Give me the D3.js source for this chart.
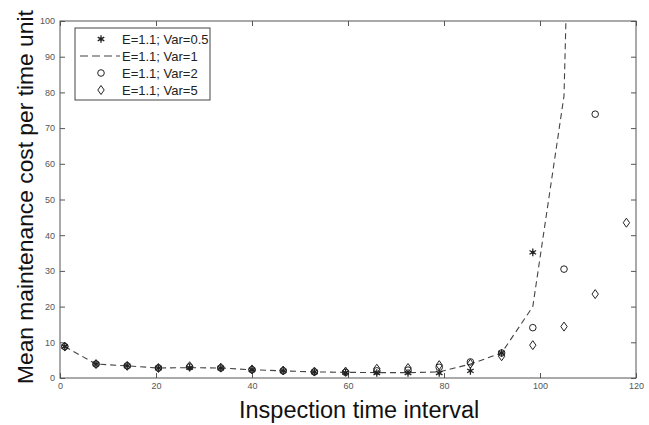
<!DOCTYPE html>
<html><head><meta charset="utf-8">
<script src="https://cdn.jsdelivr.net/npm/d3@7"></script>
<style>body{margin:0;background:#fff}</style>
</head><body>
<svg id="c" width="649" height="425"></svg>
<script>
const xValues = [1,7.5,14,20.5,27,33.5,40,46.5,53,59.5,66,72.5,79,85.5,92,98.5,105,111.5,118];
const var05 = [8.8,3.9,3.4,2.8,2.9,2.8,2.3,2.0,1.7,1.5,1.4,1.4,1.4,2.0,7.0,35.2];
const var1  = [8.8,3.9,3.4,2.8,2.9,2.8,2.3,2.0,1.7,1.6,1.5,1.5,1.7,3.9,7.0,20.0,79.0,420];
const var2  = [8.8,3.9,3.4,2.8,3.1,2.8,2.3,2.0,1.7,1.6,2.0,2.2,3.0,4.5,7.0,14.1,30.5,73.9];
const var5  = [8.8,3.9,3.4,2.8,3.3,2.9,2.4,2.1,1.8,1.8,2.6,2.8,3.6,4.0,6.1,9.2,14.4,23.5,43.5];
const xTicks = [0,20,40,60,80,100,120];
const yTicks = [0,10,20,30,40,50,60,70,80,90,100];
const legendLabels = ["E=1.1; Var=0.5","E=1.1; Var=1","E=1.1; Var=2","E=1.1; Var=5"];

const svg = d3.select("#c");
const L=60,R=636,T=21,B=378;
const x = d3.scaleLinear().domain([0,120]).range([L,R]);
const y = d3.scaleLinear().domain([0,100]).range([B,T]);
const ink = "#222";

svg.append("defs").append("clipPath").attr("id","clip")
  .append("rect").attr("x",L).attr("y",T).attr("width",R-L).attr("height",B-T);

svg.append("rect").attr("x",L).attr("y",T).attr("width",R-L).attr("height",B-T)
  .attr("fill","none").attr("stroke","#555").attr("stroke-width",1);

const tickLen = 5;
const xa = svg.append("g").attr("transform",`translate(0,${B})`)
  .call(d3.axisBottom(x).tickValues(xTicks).tickSizeInner(-tickLen).tickSizeOuter(0).tickPadding(5));
const ya = svg.append("g").attr("transform",`translate(${L},0)`)
  .call(d3.axisLeft(y).tickValues(yTicks).tickSizeInner(-tickLen).tickSizeOuter(0).tickPadding(5));
const xt = svg.append("g").attr("transform",`translate(0,${T})`)
  .call(d3.axisTop(x).tickValues(xTicks).tickSizeInner(-tickLen).tickSizeOuter(0).tickFormat(""));
const yr = svg.append("g").attr("transform",`translate(${R},0)`)
  .call(d3.axisRight(y).tickValues(yTicks).tickSizeInner(-tickLen).tickSizeOuter(0).tickFormat(""));
[xa,ya,xt,yr].forEach(g=>{
  g.select(".domain").remove();
  g.selectAll("line").attr("stroke","#555");
  g.selectAll("text").attr("fill","#555").style("font-family","Liberation Sans, Arial, sans-serif").style("font-size","9px");
});

const plot = svg.append("g").attr("clip-path","url(#clip)");

const lineData = var1.map((v,i)=>[xValues[i],v]);
plot.append("path").datum(lineData)
  .attr("d", d3.line().x(d=>x(d[0])).y(d=>y(d[1])))
  .attr("fill","none").attr("stroke","#444").attr("stroke-width",1.1)
  .attr("stroke-dasharray","6,4");

const diamondPath = "M0,-4.5L3.2,0L0,4.5L-3.2,0Z";
function drawDiamond(g,cx,cy){
  g.append("path").attr("d",diamondPath).attr("transform",`translate(${cx},${cy})`)
    .attr("fill","none").attr("stroke",ink).attr("stroke-width",1);
}
function drawCircle(g,cx,cy){
  g.append("circle").attr("cx",cx).attr("cy",cy).attr("r",3.3)
    .attr("fill","none").attr("stroke",ink).attr("stroke-width",1);
}
const star = d3.symbol().type(d3.symbolAsterisk).size(40);
function drawStar(g,cx,cy){
  g.append("path").attr("d",star()).attr("transform",`translate(${cx},${cy})`)
    .attr("fill","none").attr("stroke",ink).attr("stroke-width",1.3);
  g.append("circle").attr("cx",cx).attr("cy",cy).attr("r",1.6).attr("fill",ink);
}

var5.forEach((v,i)=>drawDiamond(plot,x(xValues[i]),y(v)));
var2.forEach((v,i)=>drawCircle(plot,x(xValues[i]),y(v)));
var05.forEach((v,i)=>drawStar(plot,x(xValues[i]),y(v)));

const lg = svg.append("g");
lg.append("rect").attr("x",75).attr("y",28).attr("width",135).attr("height",72)
  .attr("fill","#fff").attr("stroke","#444").attr("stroke-width",1);
const rows=[39,56,73,90];
drawStar(lg,101,rows[0]);
lg.append("line").attr("x1",80).attr("x2",120).attr("y1",rows[1]).attr("y2",rows[1])
  .attr("stroke","#444").attr("stroke-width",1.1).attr("stroke-dasharray","8,4");
drawCircle(lg,101,rows[2]);
drawDiamond(lg,101,rows[3]);
legendLabels.forEach((t,i)=>{
  lg.append("text").attr("x",122).attr("y",rows[i]).attr("dy","0.35em")
    .attr("fill","#222").style("font-family","Liberation Sans, Arial, sans-serif").style("font-size","13px").text(t);
});

svg.append("text").attr("x",239).attr("y",418).attr("text-anchor","start")
  .attr("fill","#111").style("font-family","Liberation Sans, Arial, sans-serif").style("font-size","23.5px")
  .text("Inspection time interval");
svg.append("text").attr("transform",`translate(33,384) rotate(-90)`).attr("text-anchor","start")
  .attr("fill","#111").style("font-family","Liberation Sans, Arial, sans-serif").style("font-size","22.8px")
  .text("Mean maintenance cost per time unit");
</script>
</body></html>
